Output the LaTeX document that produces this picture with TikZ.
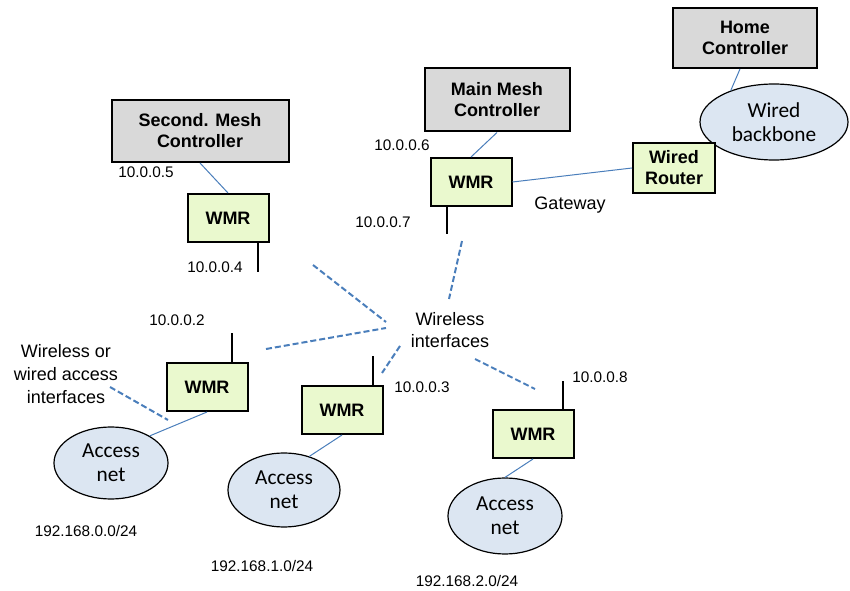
\documentclass[tikz,border=0pt]{standalone}
\usepackage{fontspec}
\setmainfont{Liberation Sans}
\newfontfamily\calfont{Carlito}
\usetikzlibrary{shapes.geometric}

\definecolor{ctrlgray}{HTML}{D9D9D9}
\definecolor{wmrgreen}{HTML}{EAF9CE}
\definecolor{netblue}{HTML}{DCE6F2}
\definecolor{linkblue}{HTML}{4A7EBB}

\begin{document}
\begin{tikzpicture}[x=0.75pt, y=-0.75pt,
    ctrl/.style={draw=black, line width=1.5pt, fill=ctrlgray, align=center,
      font=\fontsize{13.5}{15.75}\selectfont\bfseries},
    wmr/.style={draw=black, line width=1.5pt, fill=wmrgreen, align=center,
      minimum width=60.75pt, minimum height=36pt,
      font=\fontsize{13.5}{15.75}\selectfont\bfseries},
    cloud/.style={ellipse, draw=black, line width=0.9pt, fill=netblue, align=center,
      inner sep=0pt, font=\calfont\fontsize{16}{18}\selectfont},
    addr/.style={font=\fontsize{11.5}{14}\selectfont},
    note/.style={align=center, font=\fontsize{13.5}{17}\selectfont},
    link/.style={draw=linkblue, line width=0.75pt},
    radio/.style={draw=linkblue, line width=1.5pt, dash pattern=on 4.5pt off 2.25pt},
    antenna/.style={draw=black, line width=1.5pt}
  ]
  \useasboundingbox (0,0) rectangle (850,591);

  % -- 1. CONTROLLERS AND BACKBONE --
  \node[ctrl, minimum width=108pt, minimum height=45pt] (hc) at (745,38) {Home\\Controller};
  \node[ctrl, minimum width=108.75pt, minimum height=47.25pt] (mmc) at (497,100) {Main Mesh\\Controller};
  \node[ctrl, minimum width=132.75pt, minimum height=46.5pt] (smc) at (200,131) {Second. Mesh\\Controller};
  \node[cloud, minimum width=111pt, minimum height=57pt] (wb) at (774,122) {Wired\\backbone};
  \node[wmr, minimum width=61.5pt, minimum height=37.5pt] (wr) at (674,168) {Wired\\Router};

  % -- 2. MESH ROUTERS --
  \node[wmr] (wmr6) at (471,182) {WMR};
  \node[wmr] (wmr4) at (228,218) {WMR};
  \node[wmr] (wmr2) at (207,387) {WMR};
  \node[wmr] (wmr3) at (342,410) {WMR};
  \node[wmr] (wmr8) at (533,434) {WMR};

  % antennas
  \draw[antenna] ([xshift=-18pt]wmr6.south) -- ++(0,27);
  \draw[antenna] ([xshift=22.5pt]wmr4.south) -- ++(0,29);
  \draw[antenna] ([xshift=18.75pt]wmr2.north) -- ++(0,-29);
  \draw[antenna] ([xshift=23.25pt]wmr3.north) -- ++(0,-29);
  \draw[antenna] ([xshift=22.5pt]wmr8.north) -- ++(0,-28);

  % -- 3. ACCESS NETWORKS --
  \node[cloud, minimum width=85.5pt, minimum height=54pt] (an0) at (111,463) {Access\\net};
  \node[cloud, minimum width=84pt, minimum height=55.5pt] (an1) at (284,490) {Access\\net};
  \node[cloud, minimum width=85.5pt, minimum height=57pt] (an2) at (505,516) {Access\\net};

  % wired links
  \draw[link] ([xshift=-3.75pt]hc.south) -- (wb.144);
  \draw[link] (mmc.south) -- (wmr6.north);
  \draw[link] (smc.south) -- (wmr4.north);
  \draw[link] (wmr6.east) -- (wr.west);
  \draw[link] (wmr2.south) -- (an0.35);
  \draw[link] (wmr3.south) -- (an1.53);
  \draw[link] (wmr8.south) -- (an2.north);

  % -- 4. WIRELESS INTERFACES --
  \node[note] (wif) at (450,330) {Wireless\\interfaces};
  \node[note] (acc) at (66,374) {Wireless or\\wired access\\interfaces};

  \coordinate (r1a) at (313,265); \coordinate (r1b) at (386,322);
  \coordinate (r2a) at (266,349); \coordinate (r2b) at (386,328);
  \coordinate (r3a) at (462,241); \coordinate (r3b) at (449,299);
  \coordinate (r4a) at (400,346); \coordinate (r4b) at (382,373);
  \coordinate (r5a) at (475,359); \coordinate (r5b) at (535,389);
  \coordinate (r6a) at (110,387); \coordinate (r6b) at (168,420);
  \draw[radio] (r1a) -- (r1b);
  \draw[radio] (r2a) -- (r2b);
  \draw[radio] (r3a) -- (r3b);
  \draw[radio] (r4a) -- (r4b);
  \draw[radio] (r5a) -- (r5b);
  \draw[radio] (r6a) -- (r6b);

  % -- 5. ADDRESSES --
  \node[addr] (ip6) at (402,145) {10.0.0.6};
  \node[addr] (ip7) at (383,222) {10.0.0.7};
  \node[note] (gw) at (570,205) {Gateway};
  \node[addr] (ip5) at (146,172) {10.0.0.5};
  \node[addr] (ip4) at (215,267) {10.0.0.4};
  \node[addr] (ip2) at (177,320) {10.0.0.2};
  \node[addr] (ip3) at (422,387) {10.0.0.3};
  \node[addr] (ip8) at (600,377) {10.0.0.8};
  \node[addr] (sn0) at (86,531) {192.168.0.0/24};
  \node[addr] (sn1) at (262,566) {192.168.1.0/24};
  \node[addr] (sn2) at (467,581) {192.168.2.0/24};
\end{tikzpicture}
\end{document}
